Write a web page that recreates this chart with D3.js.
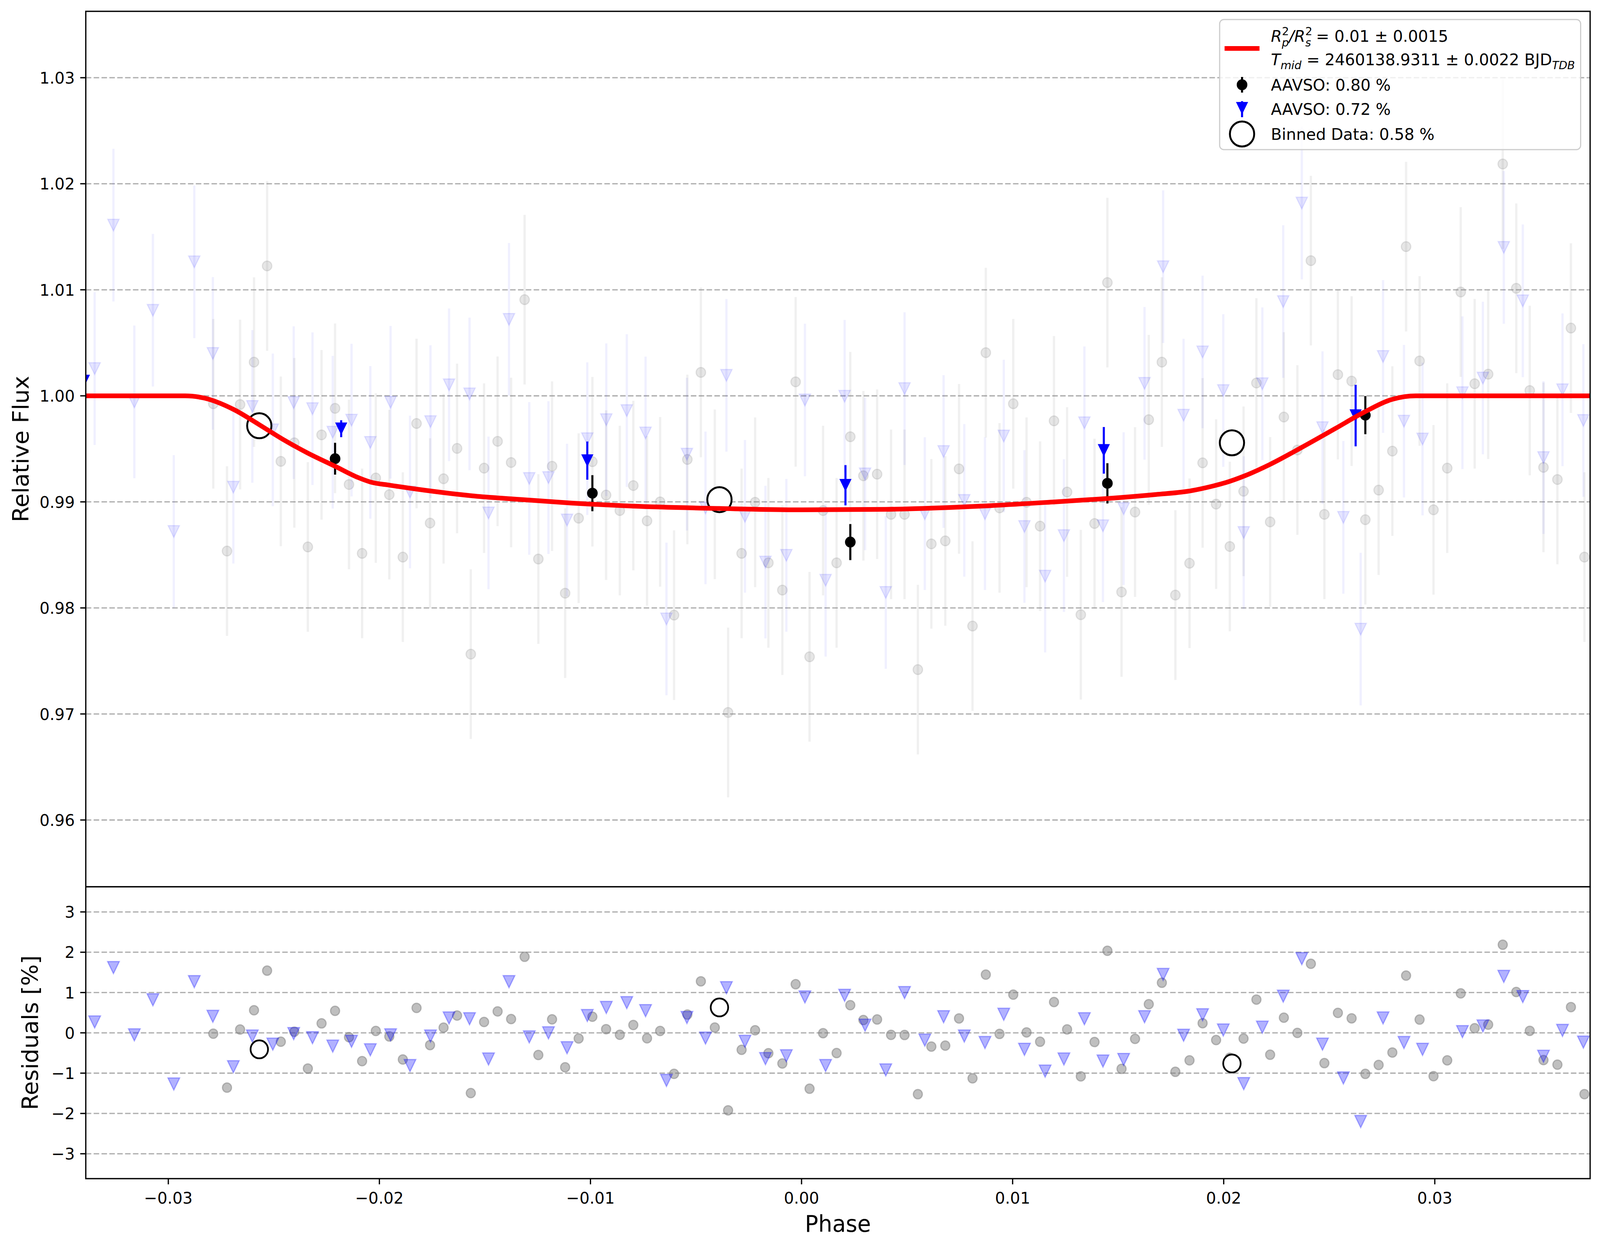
<!DOCTYPE html>
<html><head><meta charset="utf-8">
<script src="https://cdn.jsdelivr.net/npm/d3@7"></script>
<style>
html,body{margin:0;padding:0;width:100%;height:100%;overflow:hidden;background:#fff}
#c{display:block;width:100vw;height:100vh}
text{font-family:"DejaVu Sans",sans-serif;fill:#000}
</style>
</head><body><svg id="c" viewBox="0 0 4215 3192" preserveAspectRatio="none" xmlns="http://www.w3.org/2000/svg"></svg>
<script>
// ---------------- DATA ----------------
const grayPhase = [
-0.02787,-0.02722,-0.02660,-0.02594,-0.02532,-0.02467,-0.02403,-0.02339,-0.02274,-0.02210,
-0.02144,-0.02082,-0.02017,-0.01953,-0.01889,-0.01824,-0.01760,-0.01696,-0.01632,-0.01567,
-0.01504,-0.01440,-0.01376,-0.01312,-0.01247,-0.01182,-0.01120,-0.01056,-0.00991,
-0.00926,-0.00861,-0.00797,-0.00732,-0.00670,-0.00604,-0.00541,-0.00477,-0.00411,-0.00348,
-0.00284,-0.00220,-0.00157,-0.00091,-0.00028,0.00038,0.00102,0.00166,0.00231,
0.00293,0.00358,0.00424,0.00488,0.00551,0.00615,0.00681,0.00746,0.00810,0.00873,
0.00938,0.01003,0.01066,0.01130,0.01196,0.01258,0.01323,0.01388,0.01449,
0.01516,0.01580,0.01645,0.01707,0.01771,0.01838,0.01900,0.01964,0.02029,0.02094,
0.02155,0.02220,0.02285,0.02349,0.02413,0.02477,0.02541,0.02606,
0.02671,0.02734,0.02799,0.02864,0.02928,0.02994,0.03059,0.03123,0.03189,0.03253,
0.03322,0.03386,0.03450,0.03515,0.03581,0.03645,0.03709];
const grayFlux = [
0.99925,0.98536,0.99918,1.00318,1.01225,0.99382,0.99557,0.98575,0.99632,0.99882,
0.99164,0.98514,0.99225,0.99068,0.98479,0.99739,0.98800,0.99218,0.99504,0.97564,
0.99318,0.99571,0.99371,1.00907,0.98461,0.99336,0.98139,0.98846,0.99379,
0.99064,0.98918,0.99154,0.98821,0.99000,0.97932,0.99400,1.00221,0.99071,0.97014,
0.98514,0.98996,0.98425,0.98168,1.00132,0.97539,0.98918,0.98425,0.99614,
0.99246,0.99261,0.98882,0.98882,0.97418,0.98604,0.98632,0.99311,0.97829,1.00407,
0.98943,0.99925,0.98996,0.98771,0.99764,0.99093,0.97936,0.98796,1.01068,
0.98150,0.98904,0.99775,1.00318,0.98121,0.98421,0.99368,0.98979,0.98579,0.99100,
1.00121,0.98811,0.99800,0.99489,1.01275,0.98882,1.00200,1.00139,
0.98832,0.99111,0.99479,1.01407,1.00329,0.98925,0.99318,1.00979,1.00114,1.00204,
1.02186,1.01014,1.00050,0.99325,0.99211,1.00639,0.98479];
const grayErr = 0.0080;

const bluePhase = [
-0.03349,-0.03260,-0.03161,-0.03073,-0.02974,-0.02877,-0.02789,-0.02692,-0.02602,-0.02505,
-0.02406,-0.02317,-0.02221,
-0.02132,-0.02043,-0.01947,-0.01855,-0.01758,-0.01670,-0.01573,-0.01483,-0.01386,-0.01290,
-0.01199,-0.01111,-0.01015,
-0.00925,-0.00828,-0.00739,-0.00640,-0.00543,-0.00455,-0.00356,-0.00268,-0.00171,-0.00072,
0.00016,0.00114,0.00204,
0.00301,0.00399,0.00488,0.00584,0.00673,0.00771,0.00869,0.00958,0.01056,0.01154,
0.01243,0.01340,0.01428,
0.01526,0.01625,0.01713,0.01810,0.01900,0.01998,0.02095,0.02183,0.02282,0.02370,
0.02468,0.02567,0.02649,
0.02755,0.02854,0.02942,0.03131,0.03228,0.03327,0.03417,0.03515,0.03605,0.03704];
const blueFlux = [
1.00257,1.01610,0.99943,1.00807,0.98721,1.01264,1.00400,0.99139,0.99900,0.99679,
0.99936,0.99879,0.99657,
0.99771,0.99561,0.99939,0.99093,0.99757,1.00104,1.00018,0.98896,1.00721,0.99221,
0.99229,0.98829,0.99596,
0.99775,0.99861,0.99650,0.97896,0.99450,0.98943,1.00193,0.98864,0.98432,0.98496,
0.99961,0.98261,0.99996,
0.99264,0.98146,1.00068,0.98889,0.99475,0.99014,0.98889,0.99621,0.98768,0.98300,
0.98682,0.99746,0.98775,
0.98936,1.00118,1.01218,0.99818,1.00414,1.00050,0.98711,1.00114,1.00889,1.01818,
0.99700,0.98854,0.97800,
1.00371,0.99761,0.99593,1.00029,1.00168,1.01400,1.00896,0.99418,1.00057,0.99768];
const blueErr = 0.0072;
// residuals [%] of the blue series as shown in the lower panel
const blueRes = [
0.27,1.62,-0.05,0.82,-1.27,1.27,0.41,-0.84,-0.08,-0.28,
-0.02,-0.12,-0.33,
-0.21,-0.42,-0.05,-0.81,-0.08,0.37,0.35,-0.65,1.27,-0.10,
0.00,-0.37,0.43,
0.63,0.75,0.55,-1.18,0.38,-0.13,1.12,-0.21,-0.64,-0.57,
0.89,-0.81,0.93,
0.19,-0.92,1.00,-0.18,0.40,-0.08,-0.24,0.46,-0.41,-0.95,
-0.65,0.35,-0.70,
-0.66,0.40,1.45,-0.06,0.45,0.07,-1.26,0.14,0.91,1.84,
-0.28,-1.12,-2.20,
0.37,-0.24,-0.41,0.03,0.17,1.40,0.90,-0.58,0.06,-0.23];

const binBlackPhase = [-0.02210,-0.00991,0.00231,0.01449,0.02671];
const binBlackFlux  = [0.99407,0.99082,0.98621,0.99175,0.99818];
const binBlackErr   = [0.0015,0.0017,0.0017,0.0019,0.0018];

const binBluePhase = [-0.0340,-0.02181,-0.01015,0.00208,0.01432,0.02625];
const binBlueFlux  = [1.0014,0.99690,0.99389,0.99157,0.99486,0.99814];
const binBlueErr   = [0.0008,0.0008,0.0018,0.0019,0.0022,0.0029];

const bigPhase = [-0.02569,-0.00389,0.02039];
const bigFlux  = [0.99718,0.99021,0.99557];
const bigRes   = [-0.41,0.63,-0.76];

const modelPhase = [-0.0340,-0.0292,-0.0283,-0.0269,-0.0257,-0.0246,-0.0234,-0.0221,-0.0210,-0.0204,
  -0.0195,-0.0179,-0.0156,-0.0132,-0.0109,-0.0080,-0.0039,0.0000,0.0040,0.0086,0.0120,0.0145,
  0.0168,0.0183,0.0195,0.0201,0.0210,0.0222,0.0237,0.0253,0.0266,0.0280,0.0291,0.0374];
const modelFlux = [1.0,1.0,0.99979,0.99871,0.99729,0.99593,0.99461,0.99336,0.99229,0.99186,
  0.99157,0.99111,0.99057,0.99021,0.98989,0.98960,0.98938,0.98925,0.98930,0.98961,0.99000,0.99032,
  0.99070,0.99100,0.99150,0.99182,0.99246,0.99354,0.99514,0.99693,0.99840,0.99968,1.0,1.0];

const xTicks = [-0.03,-0.02,-0.01,0.00,0.01,0.02,0.03];
const yTicks = [0.96,0.97,0.98,0.99,1.00,1.01,1.02,1.03];
const rTicks = [-3,-2,-1,0,1,2,3];

// ---------------- LAYOUT ----------------
const L = 226, R = 4189, T = 29, MB = 2270, RB = 3017;
const svg = d3.select("#c");
svg.append("rect").attr("width",4215).attr("height",3192).attr("fill","#fff");

const x = d3.scaleLinear().domain([-0.03391, 0.03736]).range([L, R]);
const y = d3.scaleLinear().domain([0.95370, 1.03626]).range([MB, T]);
const yr = d3.scaleLinear().domain([-3.617, 3.623]).range([RB, MB]);
const model = d3.scaleLinear().domain(modelPhase).range(modelFlux);

const defs = svg.append("defs");
defs.append("clipPath").attr("id","cm").append("rect").attr("x",L).attr("y",T).attr("width",R-L).attr("height",MB-T);
defs.append("clipPath").attr("id","cr").append("rect").attr("x",L).attr("y",MB).attr("width",R-L).attr("height",RB-MB);

const tri = s => `M${-s/2},${-s/2}L${s/2},${-s/2}L0,${s/2}Z`;
const dash = "14.5,6.2";

// ---------- main panel ----------
const gm = svg.append("g");
gm.selectAll(".gy").data(yTicks).join("line")
  .attr("x1",L).attr("x2",R).attr("y1",d=>y(d)).attr("y2",d=>y(d))
  .attr("stroke","#b0b0b0").attr("stroke-width",3.3).attr("stroke-dasharray",dash);

const pm = gm.append("g").attr("clip-path","url(#cm)");
const grayData = grayPhase.map((p,i)=>({p, f:grayFlux[i]}));
const blueData = bluePhase.map((p,i)=>({p, f:blueFlux[i], r:blueRes[i]}));

pm.append("g").selectAll("line").data(grayData).join("line")
  .attr("x1",d=>x(d.p)).attr("x2",d=>x(d.p)).attr("y1",d=>y(d.f-grayErr)).attr("y2",d=>y(d.f+grayErr))
  .attr("stroke","rgba(128,128,128,0.12)").attr("stroke-width",6);
pm.append("g").selectAll("circle").data(grayData).join("circle")
  .attr("cx",d=>x(d.p)).attr("cy",d=>y(d.f)).attr("r",12.5)
  .attr("fill","rgba(128,128,128,0.2)").attr("stroke","rgba(128,128,128,0.2)").attr("stroke-width",3);

pm.append("g").selectAll("line").data(blueData).join("line")
  .attr("x1",d=>x(d.p)).attr("x2",d=>x(d.p)).attr("y1",d=>y(d.f-blueErr)).attr("y2",d=>y(d.f+blueErr))
  .attr("stroke","rgba(0,0,255,0.06)").attr("stroke-width",6);
pm.append("g").selectAll("path").data(blueData).join("path")
  .attr("transform",d=>`translate(${x(d.p)},${y(d.f)})`).attr("d",tri(30))
  .attr("fill","rgba(0,0,255,0.1)").attr("stroke","rgba(0,0,255,0.1)").attr("stroke-width",3);

// binned black
const bbk = binBlackPhase.map((p,i)=>({p,f:binBlackFlux[i],e:binBlackErr[i]}));
pm.append("g").selectAll("line").data(bbk).join("line")
  .attr("x1",d=>x(d.p)).attr("x2",d=>x(d.p)).attr("y1",d=>y(d.f-d.e)).attr("y2",d=>y(d.f+d.e))
  .attr("stroke","#000").attr("stroke-width",5.5);
pm.append("g").selectAll("circle").data(bbk).join("circle")
  .attr("cx",d=>x(d.p)).attr("cy",d=>y(d.f)).attr("r",14).attr("fill","#000");

// binned blue
const bbl = binBluePhase.map((p,i)=>({p,f:binBlueFlux[i],e:binBlueErr[i]}));
pm.append("g").selectAll("line").data(bbl).join("line")
  .attr("x1",d=>x(d.p)).attr("x2",d=>x(d.p)).attr("y1",d=>y(d.f-d.e)).attr("y2",d=>y(d.f+d.e))
  .attr("stroke","#0000ff").attr("stroke-width",5.5);
pm.append("g").selectAll("path").data(bbl).join("path")
  .attr("transform",d=>`translate(${x(d.p)},${y(d.f)})`).attr("d",tri(32)).attr("fill","#0000ff");

// big binned circles
pm.append("g").selectAll("circle").data(bigPhase.map((p,i)=>({p,f:bigFlux[i]}))).join("circle")
  .attr("cx",d=>x(d.p)).attr("cy",d=>y(d.f)).attr("r",32)
  .attr("fill","#fff").attr("stroke","#000").attr("stroke-width",5);

// model
const line = d3.line().x(d=>x(d[0])).y(d=>y(d[1])).curve(d3.curveMonotoneX);
pm.append("path").datum(modelPhase.map((p,i)=>[p,modelFlux[i]])).attr("d",line)
  .attr("fill","none").attr("stroke","#ff0000").attr("stroke-width",12).attr("stroke-linejoin","round");

// main axes frame
gm.append("rect").attr("x",L).attr("y",T).attr("width",R-L).attr("height",MB-T)
  .attr("fill","none").attr("stroke","#000").attr("stroke-width",3.3);
gm.selectAll(".ty").data(yTicks).join("line")
  .attr("x1",L-14.6).attr("x2",L).attr("y1",d=>y(d)).attr("y2",d=>y(d))
  .attr("stroke","#000").attr("stroke-width",3.3);
gm.selectAll(".ly").data(yTicks).join("text")
  .attr("x",L-29).attr("y",d=>y(d)).attr("dy","0.36em").attr("text-anchor","end")
  .attr("font-size",41.7).text(d=>d3.format(".2f")(d));
svg.append("text").attr("transform",`translate(75,${(T+MB)/2}) rotate(-90)`)
  .attr("text-anchor","middle").attr("font-size",58.3).text("Relative Flux");

// ---------- residual panel ----------
const gr = svg.append("g");
gr.append("rect").attr("x",L).attr("y",MB).attr("width",R-L).attr("height",RB-MB).attr("fill","#fff");
gr.selectAll(".gr").data(rTicks).join("line")
  .attr("x1",L).attr("x2",R).attr("y1",d=>yr(d)).attr("y2",d=>yr(d))
  .attr("stroke","#b0b0b0").attr("stroke-width",3.3).attr("stroke-dasharray",dash);
const pr = gr.append("g").attr("clip-path","url(#cr)");
pr.append("g").selectAll("circle").data(grayData).join("circle")
  .attr("cx",d=>x(d.p)).attr("cy",d=>yr(100*(d.f-model(d.p)))).attr("r",12)
  .attr("fill","rgba(128,128,128,0.5)").attr("stroke","rgba(128,128,128,0.5)").attr("stroke-width",3);
pr.append("g").selectAll("path").data(blueData).join("path")
  .attr("transform",d=>`translate(${x(d.p)},${yr(d.r)})`).attr("d",tri(31))
  .attr("fill","rgba(0,0,255,0.3)").attr("stroke","rgba(0,0,255,0.3)").attr("stroke-width",3);
pr.append("g").selectAll("circle").data(bigPhase.map((p,i)=>({p,r:bigRes[i]}))).join("circle")
  .attr("cx",d=>x(d.p)).attr("cy",d=>yr(d.r)).attr("r",23)
  .attr("fill","#fff").attr("stroke","#000").attr("stroke-width",4.5);

gr.append("rect").attr("x",L).attr("y",MB).attr("width",R-L).attr("height",RB-MB)
  .attr("fill","none").attr("stroke","#000").attr("stroke-width",3.3);
gr.selectAll(".tr").data(rTicks).join("line")
  .attr("x1",L-14.6).attr("x2",L).attr("y1",d=>yr(d)).attr("y2",d=>yr(d))
  .attr("stroke","#000").attr("stroke-width",3.3);
gr.selectAll(".lr").data(rTicks).join("text")
  .attr("x",L-29).attr("y",d=>yr(d)).attr("dy","0.36em").attr("text-anchor","end")
  .attr("font-size",41.7).text(d=>d3.format("d")(d));
gr.selectAll(".tx").data(xTicks).join("line")
  .attr("x1",d=>x(d)).attr("x2",d=>x(d)).attr("y1",RB).attr("y2",RB+14.6)
  .attr("stroke","#000").attr("stroke-width",3.3);
gr.selectAll(".lx").data(xTicks).join("text")
  .attr("x",d=>x(d)).attr("y",3081).attr("text-anchor","middle")
  .attr("font-size",41.7).text(d=>d3.format(".2f")(d));
svg.append("text").attr("transform",`translate(100,${(MB+RB)/2}) rotate(-90)`)
  .attr("text-anchor","middle").attr("font-size",58.3).text("Residuals [%]");
svg.append("text").attr("x",(L+R)/2).attr("y",3153).attr("text-anchor","middle")
  .attr("font-size",58.3).text("Phase");

// ---------- legend ----------
const lg = svg.append("g");
lg.append("rect").attr("x",3213).attr("y",50).attr("width",951).attr("height",333).attr("rx",11)
  .attr("fill","rgba(255,255,255,0.8)").attr("stroke","#cccccc").attr("stroke-width",3);
lg.append("line").attr("x1",3226).attr("x2",3318).attr("y1",124).attr("y2",124)
  .attr("stroke","#ff0000").attr("stroke-width",12);
const hx = 3272;
lg.append("line").attr("x1",hx).attr("x2",hx).attr("y1",197).attr("y2",237).attr("stroke","#000").attr("stroke-width",5.5);
lg.append("circle").attr("cx",hx).attr("cy",217).attr("r",14).attr("fill","#000");
lg.append("line").attr("x1",hx).attr("x2",hx).attr("y1",259).attr("y2",300).attr("stroke","#0000ff").attr("stroke-width",5.5);
lg.append("path").attr("transform",`translate(${hx},277)`).attr("d",tri(32)).attr("fill","#0000ff");
lg.append("circle").attr("cx",hx).attr("cy",343).attr("r",32).attr("fill","#fff").attr("stroke","#000").attr("stroke-width",5);

const fs = 41.7, ss = 29.2;
const t1 = lg.append("text").attr("x",3348).attr("y",107).attr("font-size",fs);
t1.append("tspan").attr("font-style","italic").text("R");
t1.append("tspan").attr("font-size",ss).attr("dy",-17).text("2");
t1.append("tspan").attr("font-size",ss).attr("font-style","italic").attr("dx",-18.6).attr("dy",29).text("p");
t1.append("tspan").attr("font-style","italic").attr("dy",-12).text("/R");
t1.append("tspan").attr("font-size",ss).attr("dy",-17).text("2");
t1.append("tspan").attr("font-size",ss).attr("font-style","italic").attr("dx",-18.6).attr("dy",29).text("s");
t1.append("tspan").attr("dy",-12).text("\u00a0= 0.01 \u00b1 0.0015");

const t2 = lg.append("text").attr("x",3348).attr("y",167).attr("font-size",fs);
t2.append("tspan").attr("font-style","italic").text("T");
t2.append("tspan").attr("font-size",ss).attr("font-style","italic").attr("dy",10).text("mid");
t2.append("tspan").attr("dy",-10).text("\u00a0= 2460138.9311 \u00b1 0.0022 BJD");
t2.append("tspan").attr("font-size",ss).attr("font-style","italic").attr("dy",10).text("TDB");

lg.append("text").attr("x",3348).attr("y",232).attr("font-size",fs).text("AAVSO: 0.80 %");
lg.append("text").attr("x",3348).attr("y",294).attr("font-size",fs).text("AAVSO: 0.72 %");
lg.append("text").attr("x",3348).attr("y",358).attr("font-size",fs).text("Binned Data: 0.58 %");
</script></body></html>
